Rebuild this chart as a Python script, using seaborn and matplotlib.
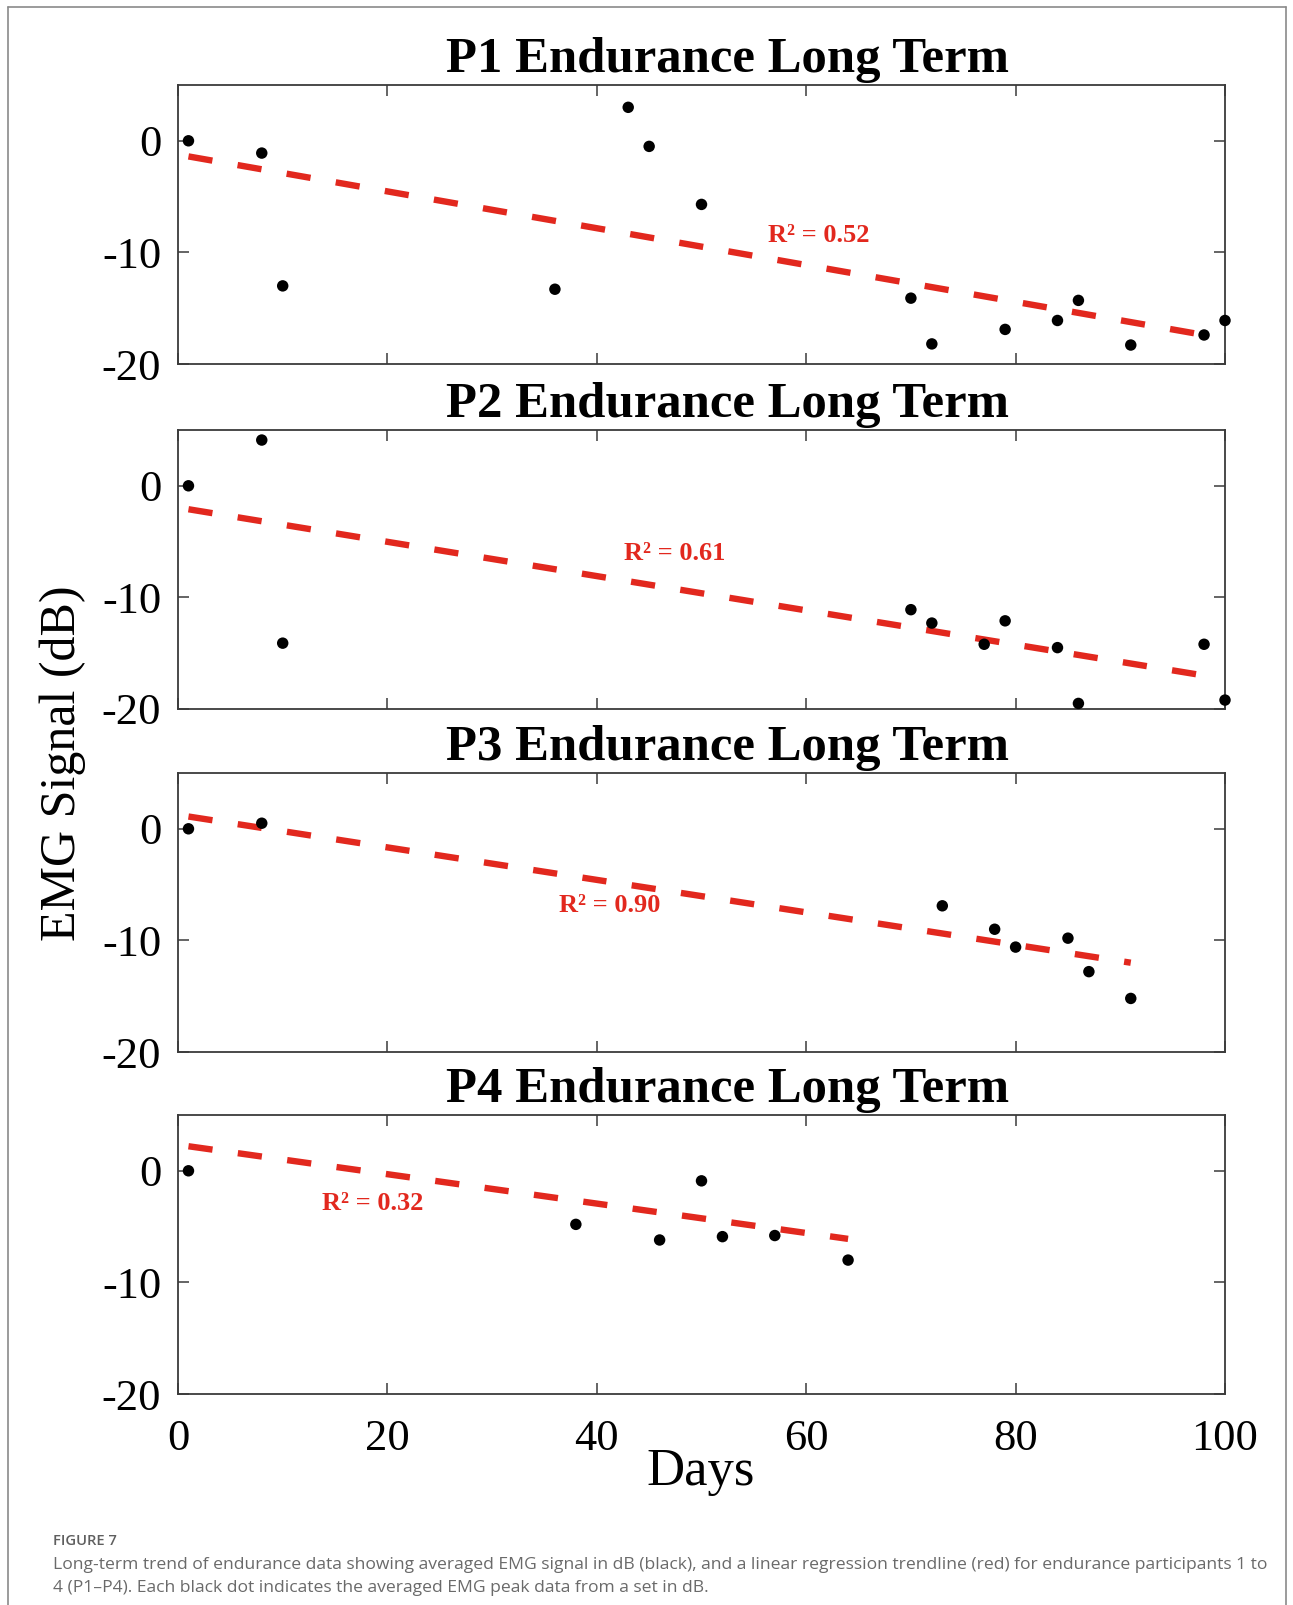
import numpy as np
import pandas as pd
import seaborn as sns
import matplotlib.pyplot as plt
from matplotlib.lines import Line2D

# values
p1_days = [1, 8, 10, 36, 43, 45, 50, 70, 72, 79, 84, 86, 91, 98, 100]
p1_emg = [0.0, -1.1, -13.0, -13.3, 3.0, -0.5, -5.7, -14.1, -18.2, -16.9, -16.1, -14.3, -18.3, -17.4, -16.1]
p1_trend_days = [1, 98]
p1_trend_emg = [-1.4, -17.4]

p2_days = [1, 8, 10, 70, 72, 77, 79, 84, 86, 98, 100]
p2_emg = [0.0, 4.1, -14.1, -11.1, -12.3, -14.2, -12.1, -14.5, -19.5, -14.2, -19.2]
p2_trend_days = [1, 98]
p2_trend_emg = [-2.1, -17.0]

p3_days = [1, 8, 73, 78, 80, 85, 87, 91]
p3_emg = [0.0, 0.5, -6.9, -9.0, -10.6, -9.8, -12.8, -15.2]
p3_trend_days = [1, 91]
p3_trend_emg = [1.1, -12.0]

p4_days = [1, 38, 46, 50, 52, 57, 64]
p4_emg = [0.0, -4.8, -6.2, -0.9, -5.9, -5.8, -8.0]
p4_trend_days = [1, 64]
p4_trend_emg = [2.2, -6.1]

titles = ["P1 Endurance Long Term", "P2 Endurance Long Term",
          "P3 Endurance Long Term", "P4 Endurance Long Term"]
r2_labels = ["R\u00b2 = 0.52", "R\u00b2 = 0.61", "R\u00b2 = 0.90", "R\u00b2 = 0.32"]
r2_pos = [(61.2, -8.5), (47.4, -6.1), (41.2, -6.9), (18.6, -2.9)]

x_ticks = [0, 20, 40, 60, 80, 100]
y_ticks = [-20, -10, 0]

panels = [
    (p1_days, p1_emg, p1_trend_days, p1_trend_emg),
    (p2_days, p2_emg, p2_trend_days, p2_trend_emg),
    (p3_days, p3_emg, p3_trend_days, p3_trend_emg),
    (p4_days, p4_emg, p4_trend_days, p4_trend_emg),
]

sns.set_style("ticks")
plt.rcParams['font.family'] = ['Liberation Serif', 'DejaVu Serif']
plt.rcParams['axes.unicode_minus'] = False
plt.rcParams['text.color'] = 'black'
plt.rcParams['xtick.labelcolor'] = 'black'
plt.rcParams['ytick.labelcolor'] = 'black'

W, H = 1293, 1605
fig = plt.figure(figsize=(W / 100, H / 100), dpi=100)

red = '#e2281e'
spine_col = '#3a3a3a'
ax_left = 178 / W
ax_width = 1047 / W
ax_height = 279 / H
tops = [85, 430, 773, 1115]

for i, (days, emg, tdays, temg) in enumerate(panels):
    ax = fig.add_axes([ax_left, 1 - (tops[i] + 279) / H, ax_width, ax_height])
    df = pd.DataFrame({'Days': days, 'EMG': emg})
    tdf = pd.DataFrame({'Days': tdays, 'EMG': temg})
    sns.lineplot(data=tdf, x='Days', y='EMG', ax=ax, color=red, linewidth=4.6,
                 dashes=False, zorder=2)
    ax.lines[-1].set_dashes([3.8, 4.0])
    ax.lines[-1].set_dash_capstyle('butt')
    sns.scatterplot(data=df, x='Days', y='EMG', ax=ax, color='black', s=68,
                    edgecolor='none', zorder=3, clip_on=False)
    ax.set_xlim(0, 100)
    ax.set_ylim(-20, 5)
    ax.set_xticks(x_ticks)
    ax.set_yticks(y_ticks)
    ax.set_xlabel('')
    ax.set_ylabel('')
    ax.tick_params(direction='in', length=8, width=1.1, color=spine_col,
                   top=True, right=True, labelsize=32, pad=12)
    ax.tick_params(axis='x', pad=18)
    if i < 3:
        ax.tick_params(axis='x', labelbottom=False)
    for sp in ax.spines.values():
        sp.set_color(spine_col)
        sp.set_linewidth(1.3)
    ax.text(0.525, 1 + 13 / 279, titles[i], transform=ax.transAxes,
            ha='center', va='baseline', fontsize=36.5, fontweight='bold',
            color='black')
    ax.text(r2_pos[i][0], r2_pos[i][1], r2_labels[i], color=red, fontsize=19,
            fontweight='bold', ha='center', va='center')

fig.text(63 / W, 1 - 763 / H, 'EMG Signal (dB)', rotation=90, ha='center',
         va='center', fontsize=36, color='black')
fig.text(701 / W, 1 - 1472 / H, 'Days', ha='center', va='center', fontsize=38,
         color='black')

# outer frame of the figure panel
frame_col = '#8a8a8a'
fig.add_artist(Line2D([8 / W, 1286 / W], [1 - 7 / H, 1 - 7 / H], color=frame_col, lw=1.2))
fig.add_artist(Line2D([8 / W, 8 / W], [0, 1 - 7 / H], color=frame_col, lw=1.2))
fig.add_artist(Line2D([1286 / W, 1286 / W], [0, 1 - 7 / H], color=frame_col, lw=1.2))

cap_font = ['Open Sans', 'DejaVu Sans']
fig.text(53 / W, 1 - 1541 / H, 'FIGURE 7', fontsize=10.6, color='#5f5f5f',
         family=cap_font, fontweight='semibold', va='center')
fig.text(53 / W, 1 - 1565 / H,
         'Long-term trend of endurance data showing averaged EMG signal in dB (black), '
         'and a linear regression trendline (red) for endurance participants 1 to',
         fontsize=12.6, color='#6a6a6a', family=cap_font, va='center')
fig.text(53 / W, 1 - 1588 / H,
         '4 (P1\u2013P4). Each black dot indicates the averaged EMG peak data from a set in dB.',
         fontsize=12.6, color='#6a6a6a', family=cap_font, va='center')

fig.savefig('out.png', dpi=100)
